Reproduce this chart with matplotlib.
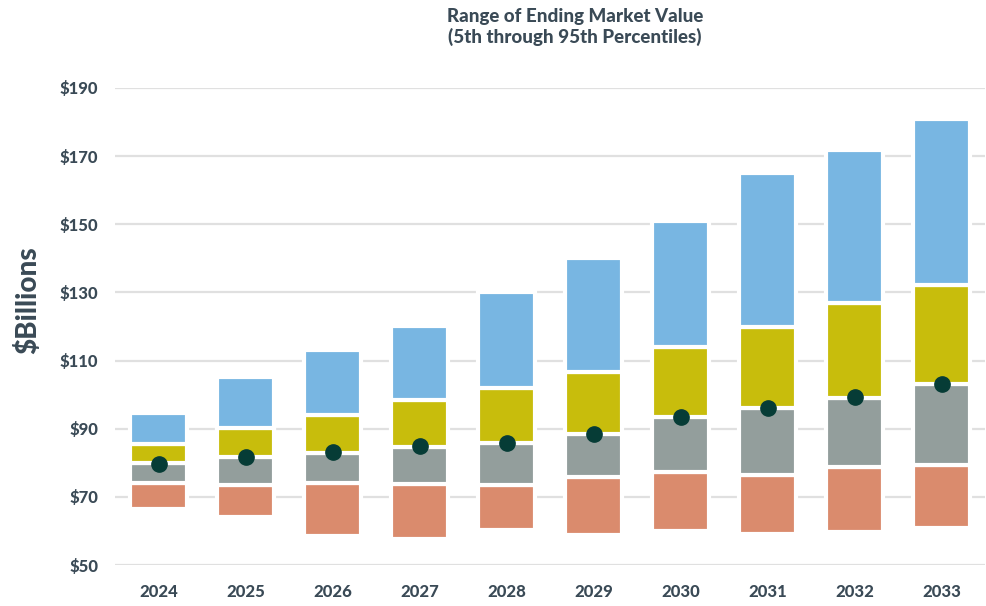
import matplotlib
matplotlib.use("Agg")
import matplotlib.pyplot as plt
import numpy as np

# years and percentile values ($ billions)
years = ["2024", "2025", "2026", "2027", "2028", "2029", "2030", "2031", "2032", "2033"]
p5 = [66.5, 64.0, 58.6, 57.7, 60.2, 58.9, 60.0, 59.2, 59.7, 60.9]
p25 = [74.2, 73.4, 74.2, 73.8, 73.6, 75.9, 77.4, 76.3, 78.8, 79.4]
p50 = [79.8, 81.6, 82.9, 84.7, 85.7, 88.4, 93.4, 96.1, 98.9, 103.0]
p75 = [85.5, 90.3, 94.1, 98.5, 102.0, 106.6, 114.1, 119.9, 127.0, 132.1]
p95 = [94.5, 105.2, 113.1, 120.1, 130.1, 140.1, 150.9, 165.1, 171.7, 180.8]
expected = [79.6, 81.6, 83.3, 84.8, 85.8, 88.5, 93.5, 96.2, 99.2, 103.0]
yticks = [50, 70, 90, 110, 130, 150, 170, 190]

text_color = "#3A4A56"
colors = ["#DA8B6D", "#939E9C", "#C8BD0C", "#78B6E2"]

plt.rcParams["font.family"] = ["Lato", "DejaVu Sans"]

fig = plt.figure(figsize=(9.87, 6.06), dpi=100)
ax = fig.add_axes([115 / 987, 1 - 565 / 606, (985 - 115) / 987, (565 - 88) / 606])

x = np.arange(len(years))
levels = [p5, p25, p50, p75, p95]

# stacked segments between consecutive percentiles
for i in range(4):
    lo = np.array(levels[i])
    hi = np.array(levels[i + 1])
    ax.bar(x, hi - lo, bottom=lo, width=0.66, color=colors[i],
           edgecolor="white", linewidth=3, zorder=3)

# dot marker
ax.plot(x, expected, "o", color="#063C36", markersize=11, zorder=4)

ax.set_xlim(-0.5, len(years) - 0.5)
ax.set_ylim(50, 190)
ax.set_yticks(yticks)
ax.set_yticklabels(["$" + str(v) for v in yticks])
ax.set_xticks(x)
ax.set_xticklabels(years)

ax.grid(axis="y", color="#E0E0E0", linewidth=1.6, zorder=0)
ax.set_axisbelow(True)
for s in ax.spines.values():
    s.set_visible(False)
ax.tick_params(length=0, colors=text_color, labelsize=12)
ax.tick_params(axis="y", pad=12)
ax.tick_params(axis="x", pad=14)
for lab in ax.get_xticklabels() + ax.get_yticklabels():
    lab.set_fontweight(900)

fig.text(28 / 987, 1 - 300 / 606, "$Billions", rotation=90, fontsize=20,
         fontweight=900, color=text_color, ha="center", va="center")
fig.text(575 / 987, 1 - 27 / 606,
         "Range of Ending Market Value\n(5th through 95th Percentiles)",
         ha="center", va="center", fontsize=13.5, fontweight=900,
         color=text_color, linespacing=1.25)

fig.savefig("out.png", dpi=100)
